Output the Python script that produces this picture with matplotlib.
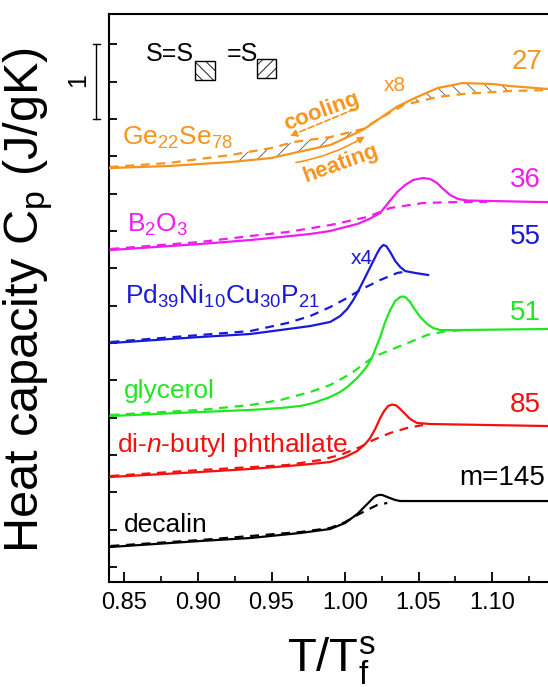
import matplotlib
matplotlib.use("Agg")
import matplotlib.pyplot as plt
import numpy as np
from matplotlib.patches import Rectangle
from matplotlib.ticker import MultipleLocator, NullFormatter

plt.rcParams['font.family'] = ['Liberation Sans', 'DejaVu Sans']
plt.rcParams['mathtext.fontset'] = 'custom'
plt.rcParams['mathtext.rm'] = 'Liberation Sans'
plt.rcParams['mathtext.it'] = 'Liberation Sans:italic'
plt.rcParams['hatch.linewidth'] = 0.6

ORANGE, MAGENTA, BLUE, GREEN, RED, BLACK = "#f7941d", "#f01cf0", "#1a1ad6", "#22e622", "#f51010", "#000000"

# ---- data (T/Tf^s, Cp shifted, J/gK) ----
# Ge22Se78 (x8)
ge_h_x = [0.840, 0.880, 0.922, 0.950, 0.965, 0.990, 1.012, 1.024, 1.035, 1.046, 1.063, 1.080, 1.100, 1.112, 1.138]
ge_h_y = [5.542, 5.569, 5.622, 5.676, 5.743, 5.850, 6.051, 6.211, 6.359, 6.466, 6.613, 6.680, 6.667, 6.640, 6.600]
ge_c_x = [0.840, 0.880, 0.922, 0.950, 0.965, 0.990, 1.012, 1.024, 1.040, 1.063, 1.080, 1.112, 1.138]
ge_c_y = [5.556, 5.609, 5.716, 5.810, 5.890, 5.957, 6.064, 6.211, 6.386, 6.493, 6.533, 6.573, 6.586]

# B2O3
bo_h_x = [0.8405, 0.9016, 0.9356, 0.9560, 0.9764, 0.9899, 1.0001, 1.0083, 1.0164, 1.0239, 1.0293, 1.0355,
          1.0409, 1.0463, 1.0531, 1.0579, 1.0626, 1.0667, 1.0715, 1.0769, 1.0830, 1.1326, 1.138]
bo_h_y = [4.444, 4.525, 4.578, 4.618, 4.659, 4.699, 4.752, 4.792, 4.859, 4.940, 5.074, 5.221,
          5.315, 5.382, 5.408, 5.395, 5.341, 5.261, 5.181, 5.127, 5.107, 5.087, 5.087]
bo_c_x = [0.8405, 0.9016, 0.9356, 0.9607, 0.9899, 1.0151, 1.0307, 1.0531, 1.0762, 1.0966]
bo_c_y = [4.458, 4.552, 4.632, 4.685, 4.779, 4.886, 5.007, 5.074, 5.087, 5.087]

# Pd39Ni10Cu30P21 (x4)
pd_h_x = [0.8405, 0.9016, 0.9356, 0.9560, 0.9764, 0.9899, 0.9967, 1.0015, 1.0056, 1.0090, 1.0124, 1.0158,
          1.0192, 1.0219, 1.0239, 1.0260, 1.0280, 1.0307, 1.0341, 1.0375, 1.0409, 1.0477, 1.0565]
pd_h_y = [3.199, 3.280, 3.320, 3.373, 3.427, 3.481, 3.561, 3.655, 3.775, 3.896, 4.029, 4.163,
          4.297, 4.404, 4.471, 4.511, 4.498, 4.418, 4.297, 4.217, 4.163, 4.137, 4.110]
pd_c_x = [0.8405, 0.9016, 0.9356, 0.9607, 0.9764, 0.9899, 1.0001, 1.0103, 1.0239, 1.0355, 1.0395]
pd_c_y = [3.213, 3.307, 3.360, 3.467, 3.561, 3.681, 3.788, 3.909, 4.043, 4.137, 4.150]

# glycerol
gl_h_x = [0.8405, 0.9016, 0.9356, 0.9560, 0.9696, 0.9784, 0.9899, 0.9967, 1.0015, 1.0083, 1.0124, 1.0151,
          1.0185, 1.0212, 1.0239, 1.0273, 1.0307, 1.0341, 1.0375, 1.0389, 1.0409, 1.0443, 1.0463, 1.0511,
          1.0558, 1.0599, 1.0647, 1.0783, 1.138]
gl_h_y = [2.222, 2.276, 2.303, 2.329, 2.356, 2.396, 2.477, 2.544, 2.610, 2.731, 2.825, 2.892,
          3.012, 3.146, 3.280, 3.481, 3.641, 3.762, 3.815, 3.822, 3.815, 3.748, 3.681, 3.548,
          3.454, 3.400, 3.373, 3.373, 3.387]
gl_c_x = [0.8405, 0.9016, 0.9356, 0.9560, 0.9764, 0.9899, 1.0035, 1.0192, 1.0307, 1.0443, 1.0558, 1.0694, 1.0851]
gl_c_y = [2.236, 2.303, 2.369, 2.436, 2.544, 2.637, 2.784, 3.012, 3.106, 3.213, 3.307, 3.360, 3.373]

# di-n-butyl phthalate
db_h_x = [0.8405, 0.9016, 0.9356, 0.9696, 0.9899, 1.0001, 1.0083, 1.0137, 1.0171, 1.0205, 1.0239, 1.0266,
          1.0293, 1.0321, 1.0348, 1.0375, 1.0409, 1.0443, 1.0490, 1.0579, 1.1374]
db_h_y = [1.406, 1.473, 1.513, 1.566, 1.606, 1.673, 1.754, 1.847, 1.928, 2.048, 2.195, 2.289,
          2.356, 2.376, 2.363, 2.316, 2.249, 2.182, 2.129, 2.115, 2.088]
db_c_x = [0.8405, 0.9016, 0.9607, 0.9832, 0.9967, 1.0103, 1.0192, 1.0307, 1.0423, 1.0531]
db_c_y = [1.419, 1.499, 1.566, 1.633, 1.700, 1.807, 1.901, 1.995, 2.062, 2.102]

# decalin
de_h_x = [0.8405, 0.9016, 0.9356, 0.9696, 0.9899, 1.0001, 1.0083, 1.0137, 1.0171, 1.0198, 1.0226, 1.0253,
          1.0287, 1.0341, 1.0375, 1.1374]
de_h_y = [0.469, 0.549, 0.589, 0.656, 0.710, 0.790, 0.910, 1.017, 1.084, 1.138, 1.165, 1.165,
          1.138, 1.098, 1.084, 1.084]
de_c_x = [0.8405, 0.9016, 0.9696, 0.9899, 1.0001, 1.0083, 1.0151, 1.0219, 1.0287]
de_c_y = [0.482, 0.562, 0.669, 0.723, 0.803, 0.897, 0.964, 1.031, 1.058]

curves = [
    (ge_h_x, ge_h_y, ge_c_x, ge_c_y, ORANGE),
    (bo_h_x, bo_h_y, bo_c_x, bo_c_y, MAGENTA),
    (pd_h_x, pd_h_y, pd_c_x, pd_c_y, BLUE),
    (gl_h_x, gl_h_y, gl_c_x, gl_c_y, GREEN),
    (db_h_x, db_h_y, db_c_x, db_c_y, RED),
    (de_h_x, de_h_y, de_c_x, de_c_y, BLACK),
]
fragility = ["27", "36", "55", "51", "85", "m=145"]

fig = plt.figure(figsize=(5.48, 6.87), dpi=100)
ax = fig.add_axes([109 / 548, 1 - 582 / 687, 1 - 109 / 548, (582 - 14) / 687])
ax.set_xlim(0.8395, 1.138)
ax.set_ylim(0, 7.604)

for hx, hy, cx, cy, col in curves:
    ax.plot(cx, cy, color=col, lw=1.6, ls=(0, (4, 3)), zorder=3, solid_joinstyle="round")
    ax.plot(hx, hy, color=col, lw=1.6, zorder=4, solid_joinstyle="round")

# hatched areas between heating and cooling for Ge22Se78
hx, hy, cx, cy = map(np.asarray, (ge_h_x, ge_h_y, ge_c_x, ge_c_y))
m1 = (hx >= 0.922) & (hx <= 1.012)
m2 = (cx >= 0.922) & (cx <= 1.012)
ax.fill(np.r_[hx[m1], cx[m2][::-1]], np.r_[hy[m1], cy[m2][::-1]],
        fc="none", ec="#555555", lw=0, hatch="//", zorder=2)
m1 = (hx >= 1.046) & (hx <= 1.112)
m2 = (cx >= 1.040) & (cx <= 1.112)
ax.fill(np.r_[cx[m2], hx[m1][::-1]], np.r_[cy[m2], hy[m1][::-1]],
        fc="none", ec="#555555", lw=0, hatch="\\\\", zorder=2)

# axes styling
for s in ["left", "bottom", "top"]:
    ax.spines[s].set_linewidth(1.5)
ax.spines["right"].set_visible(False)
ax.set_xticks(np.arange(0.85, 1.101, 0.05))
ax.set_xticklabels(["0.85", "0.90", "0.95", "1.00", "1.05", "1.10"])
ax.xaxis.set_minor_locator(MultipleLocator(0.025))
ax.set_yticks(np.arange(0.2, 7.3, 0.5))
ax.yaxis.set_major_formatter(NullFormatter())
ax.tick_params(axis="x", which="major", direction="in", length=7, width=1.3, labelsize=17, pad=7)
ax.tick_params(axis="x", which="minor", direction="in", length=4, width=1.2)
ax.tick_params(axis="y", which="major", direction="in", length=6, width=1.3)

# fragility numbers at right
num_pos = [(1.1237, 6.961), (1.1223, 5.382), (1.1223, 4.618), (1.1223, 3.601), (1.1223, 2.369), (1.1067, 1.392)]
for (x, y), txt, c in zip(num_pos, fragility, [c[4] for c in curves]):
    ax.text(x, y, txt, color=c, fontsize=20, ha="center", va="center")

# sample names
lab = dict(fontsize=19, ha="left", va="baseline")
ax.text(0.8486, 5.85, "Ge$_{22}$Se$_{78}$", color=ORANGE, **lab)
ax.text(0.8520, 4.685, "B$_2$O$_3$", color=MAGENTA, **lab)
ax.text(0.8507, 3.72, "Pd$_{39}$Ni$_{10}$Cu$_{30}$P$_{21}$", color=BLUE, **lab)
ax.text(0.8493, 2.463, "glycerol", color=GREEN, **lab)
ax.text(0.8452, 1.740, "di-$n$-butyl phthallate", color=RED, **lab)
ax.text(0.8493, 0.669, "decalin", color=BLACK, **lab)
ax.text(1.034, 6.653, "x8", color=ORANGE, fontsize=15, ha="center", va="center")
ax.text(1.0115, 4.330, "x4", color=BLUE, fontsize=15, ha="center", va="center")

# cooling / heating arrows
ax.text(0.984, 6.30, "cooling", color=ORANGE, fontsize=16, fontweight="bold",
        rotation=20, ha="center", va="center")
ax.annotate("", xy=(0.9607, 5.957), xytext=(1.0083, 6.345),
            arrowprops=dict(arrowstyle="-|>", color=ORANGE, lw=1.2, ls="--", mutation_scale=10))
ax.text(0.997, 5.60, "heating", color=ORANGE, fontsize=16, fontweight="bold",
        rotation=20, ha="center", va="center")
ax.annotate("", xy=(1.0151, 5.984), xytext=(0.9648, 5.609),
            arrowprops=dict(arrowstyle="-|>", color=ORANGE, lw=1.2, mutation_scale=10,
                            connectionstyle="arc3,rad=0.1"))

# S = S(box) = S(box)
ax.text(0.8643, 7.068, "S=S", fontsize=18, ha="left", va="center")
ax.text(0.9199, 7.068, "=S", fontsize=18, ha="left", va="center")
ax.add_patch(Rectangle((0.8982, 6.720), 0.0132, 0.254, fc="white", ec="black", lw=1.0, hatch="\\\\\\"))
ax.add_patch(Rectangle((0.9403, 6.747), 0.0125, 0.254, fc="white", ec="black", lw=1.0, hatch="///"))

# scale bar 1 J/gK
sb = dict(color="black", lw=1.0, clip_on=False)
ax.plot([0.831, 0.831], [6.2, 7.2], **sb)
ax.plot([0.8283, 0.8337], [6.2, 6.2], **sb)
ax.plot([0.8283, 0.8337], [7.2, 7.2], **sb)
ax.text(0.8188, 6.72, "1", fontsize=18, rotation=90, ha="center", va="center")

fig.text(28 / 548, 1 - 300 / 687, "Heat capacity C$_\\mathregular{p}$ (J/gK)", fontsize=35, rotation=90,
         ha="center", va="center")
fig.text(331 / 548, 1 - 672 / 687, "T/T$_\\mathregular{f}^\\mathregular{s}$", fontsize=34,
         ha="center", va="baseline")

fig.savefig("out.png", dpi=100)
